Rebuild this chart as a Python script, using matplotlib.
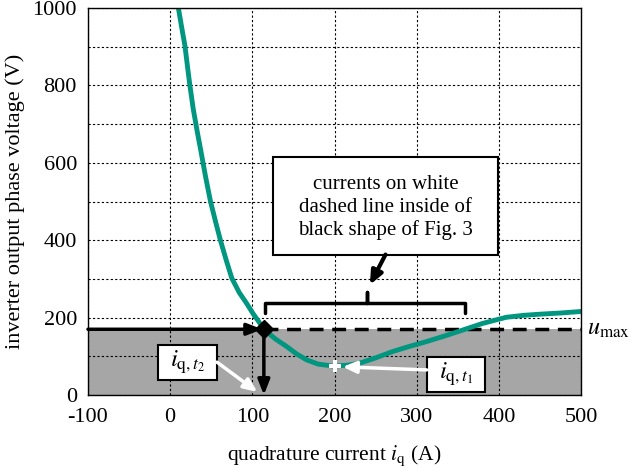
import matplotlib
matplotlib.use("Agg")
import matplotlib.pyplot as plt
from matplotlib.patches import Rectangle
import numpy as np

plt.rcParams['font.family'] = ['Liberation Serif', 'DejaVu Serif']
plt.rcParams['mathtext.fontset'] = 'stix'
plt.rcParams['axes.unicode_minus'] = False

# data
iq = [10, 14, 18, 21, 24, 28, 33, 37, 43, 49, 55, 61, 68, 75, 84, 93, 101, 109, 114,
      128, 142, 154, 166, 180, 198, 215, 230, 250, 270, 290, 310, 333, 356, 380, 409,
      430, 450, 475, 500]
voltage = [1000, 950, 902, 850, 800, 740, 680, 635, 565, 501, 450, 401, 350, 302, 265, 237, 210, 186, 170,
           145, 125, 106, 91, 80, 75, 77, 82, 96, 112, 125, 137, 152, 168, 185, 201,
           206, 209, 212, 216]
u_max = 170
iq_t2 = 114
iq_t1, v_t1 = 200, 75
brace_lo, brace_hi = 115, 359
xticks = [-100, 0, 100, 200, 300, 400, 500]
yticks = [0, 200, 400, 600, 800, 1000]

fig = plt.figure(figsize=(6.33, 4.72), dpi=100)
ax = fig.add_axes([0.139, 0.163, 0.779, 0.820])
ax.set_xlim(-100, 500)
ax.set_ylim(0, 1000)

# gray region
ax.fill_between([-100, 500], 0, u_max, color='#a6a6a6', zorder=1, linewidth=0)

# grid
ax.set_xticks(xticks)
ax.set_yticks(yticks)
ax.set_yticks(np.arange(0, 1001, 100), minor=True)
ax.grid(True, which='both', color='black', linestyle=(0, (2, 2)), linewidth=0.8, zorder=2)
ax.tick_params(which='both', direction='in', length=0, labelsize=16)
ax.tick_params(axis='x', pad=9)
ax.tick_params(axis='y', pad=8)
for s in ax.spines.values():
    s.set_linewidth(1.0)
    s.set_zorder(6)

# dashed u_max line
ax.plot([iq_t2, 500], [u_max, u_max], color='black', linestyle=(0, (4, 2.5)), linewidth=2.5, zorder=3)

# curve
ax.plot(iq, voltage, color='#00967f', linewidth=3.5, zorder=4, solid_joinstyle='round')

# horizontal arrow
ax.annotate('', xy=(iq_t2 - 2, u_max), xytext=(-100, u_max),
            arrowprops=dict(arrowstyle='-|>,head_length=0.9,head_width=0.35', color='black', lw=2.5,
                            shrinkA=0, shrinkB=0), zorder=5)
# vertical arrow
ax.annotate('', xy=(iq_t2, 0), xytext=(iq_t2, u_max),
            arrowprops=dict(arrowstyle='-|>,head_length=0.9,head_width=0.35', color='black', lw=2.5,
                            shrinkA=0, shrinkB=0), zorder=5)
ax.plot([iq_t2], [u_max], marker='D', color='black', markersize=9, zorder=6)
ax.plot([iq_t1], [v_t1], marker='P', color='white', markersize=8, markeredgewidth=0, zorder=6)

# brace
bh, bt, bn = 238, 212, 267
bc = (brace_lo + brace_hi) / 2 + 3
ax.plot([brace_lo, brace_lo, bc, bc, bc, brace_hi, brace_hi],
        [bt, bh, bh, bn, bh, bh, bt], color='black', linewidth=2.5,
        solid_joinstyle='round', solid_capstyle='round', zorder=5)

# text box
ax.add_patch(Rectangle((125, 363), 274, 251, facecolor='white', edgecolor='black',
                       linewidth=1.5, zorder=7))
ax.text(262, 484, 'currents on white\ndashed line inside of\nblack shape of Fig. 3',
        ha='center', va='center', fontsize=15, linespacing=1.25, zorder=8)
ax.annotate('', xy=(243, 285), xytext=(262, 363),
            arrowprops=dict(arrowstyle='-|>,head_length=0.8,head_width=0.35', color='black', lw=3,
                            shrinkA=0, shrinkB=0), zorder=7)

# label boxes
ax.add_patch(Rectangle((-14.5, 38), 72, 92, facecolor='white', edgecolor='black',
                       linewidth=1.5, zorder=7))
ax.text(21, 84, r'$i_{\mathrm{q},t_2}$', ha='center', va='center', fontsize=18, zorder=8)
ax.annotate('', xy=(106, 8), xytext=(57, 85),
            arrowprops=dict(arrowstyle='-|>,head_length=0.8,head_width=0.35', color='white', lw=2.5,
                            shrinkA=0, shrinkB=0), zorder=7)
ax.add_patch(Rectangle((312, 8), 71, 90, facecolor='white', edgecolor='black',
                       linewidth=1.5, zorder=7))
ax.text(347.5, 53, r'$i_{\mathrm{q},t_1}$', ha='center', va='center', fontsize=18, zorder=8)
ax.annotate('', xy=(210, 73), xytext=(312, 65),
            arrowprops=dict(arrowstyle='-|>,head_length=0.8,head_width=0.35', color='white', lw=2.5,
                            shrinkA=0, shrinkB=0), zorder=7)

# u_max label
ax.text(507, u_max, r'$u_{\mathrm{max}}$', ha='left', va='center', fontsize=17.5, clip_on=False)

ax.set_xlabel(r'quadrature current $i_{\mathrm{q}}$ (A)', fontsize=15.5, labelpad=12)
ax.set_ylabel('inverter output phase voltage (V)', fontsize=16, labelpad=5)

fig.savefig('out.png', dpi=100)
